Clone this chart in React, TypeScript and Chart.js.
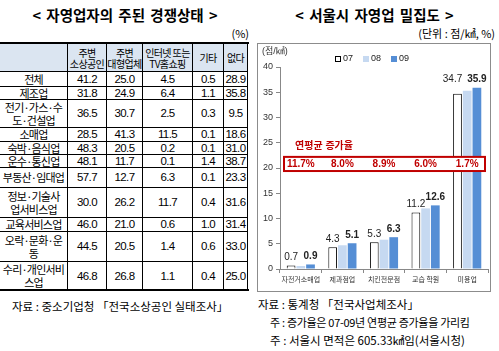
import React, { useEffect, useRef } from "react";
import { Chart, registerables } from "chart.js";
Chart.register(...registerables);

// ---- Table data (left) ----
const tableHeaders = ["주변<br>소상공인", "주변<br>대형업체", "인터넷 또는<br>TV홈쇼핑", "기타", "없다"];
const industries = [
  "전체",
  "제조업",
  "전기·가스·수<br>도·건설업",
  "소매업",
  "숙박·음식업",
  "운수·통신업",
  "부동산·임대업",
  "정보·기술사<br>업서비스업",
  "교육서비스업",
  "오락·문화·운<br>동",
  "수리·개인서비<br>스업",
];
const localSmall = ["41.2", "31.8", "36.5", "28.5", "48.3", "48.1", "57.7", "30.0", "46.0", "44.5", "46.8"];
const localLarge = ["25.0", "24.9", "30.7", "41.3", "20.5", "11.7", "12.7", "26.2", "21.0", "20.5", "26.8"];
const onlineTv = ["4.5", "6.4", "2.5", "11.5", "0.2", "0.1", "6.3", "11.7", "0.6", "1.4", "1.1"];
const others = ["0.5", "1.1", "0.3", "0.1", "0.1", "1.4", "0.1", "0.4", "1.0", "0.6", "0.4"];
const none = ["28.9", "35.8", "9.5", "18.6", "31.0", "38.7", "23.3", "31.6", "31.4", "33.0", "25.0"];

// ---- Chart data (right) ----
const categories = ["자전거소매업", "제과점업", "치킨전문점", "교습 학원", "미용업"];
const seriesNames = ["07", "08", "09"];
const values07 = [0.7, 4.3, 5.3, 11.2, 34.7];
const values08 = [0.6, 4.7, 5.8, 12.0, 35.3];
const values09 = [0.9, 5.1, 6.3, 12.6, 35.9];
const growthRates = ["11.7%", "8.0%", "8.9%", "6.0%", "1.7%"];
const growthTitle = "연평균 증가율";

// layout helpers for table
const colEdges = [0, 68, 107, 143, 193, 224, 248];
const rowHeights = [28, 15, 13, 28, 14, 13, 13, 20, 30, 14, 30, 28];
const tableTop = 44;

const KFONT = "'Noto Sans CJK KR', 'Noto Sans', sans-serif";
const NFONT = "'Liberation Sans', 'Noto Sans CJK KR', sans-serif";

function Table() {
  const cells: React.ReactNode[] = [];
  let y = tableTop;
  const columns = [localSmall, localLarge, onlineTv, others, none];
  for (let r = 0; r < rowHeights.length; r++) {
    const h = rowHeights[r];
    for (let c = 0; c < 6; c++) {
      const left = colEdges[c];
      const w = colEdges[c + 1] - colEdges[c];
      let html = "";
      let isNum = false;
      if (r === 0) {
        html = c === 0 ? "" : tableHeaders[c - 1];
      } else if (c === 0) {
        html = industries[r - 1];
      } else {
        html = columns[c - 1][r - 1];
        isNum = true;
      }
      cells.push(
        <div
          key={r + "-" + c}
          style={{
            position: "absolute",
            left,
            top: y,
            width: w,
            height: h,
            boxSizing: "border-box",
            borderRight: "1px solid #000",
            borderBottom: r === rowHeights.length - 1 ? "none" : "1px solid #000",
            background: r === 0 ? "#dbe5f1" : "#fff",
            display: "flex",
            alignItems: "center",
            justifyContent: "center",
            textAlign: "center",
            fontFamily: isNum ? NFONT : KFONT,
            fontSize: r === 0 ? 10 : isNum ? 11.5 : 11,
            letterSpacing: isNum ? -0.6 : r === 0 ? -0.6 : -0.8,
            lineHeight: r === 0 ? "11px" : "13px",
            whiteSpace: "nowrap",
            color: "#000",
          }}
          dangerouslySetInnerHTML={{ __html: html }}
        />
      );
    }
    y += h;
  }
  return (
    <>
      <div style={{ position: "absolute", left: 0, top: tableTop - 2, width: 249, height: 2, background: "#000" }} />
      {cells}
      <div style={{ position: "absolute", left: 0, top: y - 1, width: 249, height: 2, background: "#000" }} />
    </>
  );
}

export default function App() {
  const canvasRef = useRef<HTMLCanvasElement>(null);

  useEffect(() => {
    const canvas = canvasRef.current;
    if (!canvas) return;

    const annot = {
      id: "annot",
      afterDatasetsDraw(chart: any) {
        const ctx = chart.ctx;
        const xs = chart.scales.x;
        const ys = chart.scales.y;
        const area = chart.chartArea;
        ctx.save();

        // unit label
        ctx.fillStyle = "#333";
        ctx.font = `9px ${NFONT}`;
        ctx.textAlign = "left";
        ctx.textBaseline = "middle";
        ctx.fillText("(점/㎢)", 4, 8);

        // legend
        const legendX = [77, 105, 133];
        chart.data.datasets.forEach((ds: any, i: number) => {
          const lx = legendX[i];
          const ly = 15;
          ctx.fillStyle = ds.backgroundColor;
          ctx.fillRect(lx, ly - 3, 6, 6);
          if (i === 0) {
            ctx.strokeStyle = "#000";
            ctx.lineWidth = 1;
            ctx.strokeRect(lx + 0.5, ly - 2.5, 5, 5);
          }
          ctx.fillStyle = "#222";
          ctx.font = `9px ${NFONT}`;
          ctx.textAlign = "left";
          ctx.textBaseline = "middle";
          ctx.fillText(ds.label, lx + 8, ly);
        });

        // value labels for 07 and 09
        [0, 2].forEach((di) => {
          const meta = chart.getDatasetMeta(di);
          const vals = chart.data.datasets[di].data;
          meta.data.forEach((bar: any, i: number) => {
            ctx.fillStyle = "#222";
            ctx.font = `${di === 2 ? "bold " : ""}10px ${NFONT}`;
            ctx.textAlign = "center";
            ctx.textBaseline = "bottom";
            let xx = bar.x;
            let yy = bar.y - 3;
            if (di === 0 && i === 4) {
              yy = ys.getPixelForValue(35.9) - 3;
              xx = bar.x - 5;
            }
            ctx.fillText(Number(vals[i]).toFixed(1), xx, yy);
          });
        });

        // growth box
        const top = ys.getPixelForValue(22.2);
        const bottom = ys.getPixelForValue(19.4);
        const left = area.left + 4;
        const right = area.right - 3;
        ctx.fillStyle = "#ffffff";
        ctx.fillRect(left, top, right - left, bottom - top);
        ctx.strokeStyle = "#c00000";
        ctx.lineWidth = 2;
        ctx.strokeRect(left, top, right - left, bottom - top);

        ctx.fillStyle = "#c00000";
        ctx.font = `bold 10px ${NFONT}`;
        ctx.textAlign = "left";
        ctx.textBaseline = "middle";
        ctx.fillText(growthTitle, area.left + 15, ys.getPixelForValue(24.4));

        ctx.textAlign = "center";
        growthRates.forEach((g, i) => {
          ctx.fillText(g, xs.getPixelForValue(i), (top + bottom) / 2 + 0.5);
        });

        ctx.restore();
      },
    };

    const chart = new Chart(canvas, {
      type: "bar",
      data: {
        labels: categories,
        datasets: [
          { label: seriesNames[0], data: values07, backgroundColor: "#ffffff", borderColor: "#000000", borderWidth: 1 },
          { label: seriesNames[1], data: values08, backgroundColor: "#c6d9f1", borderWidth: 0 },
          { label: seriesNames[2], data: values09, backgroundColor: "#558ed5", borderWidth: 0 },
        ],
      },
      options: {
        responsive: false,
        animation: false,
        devicePixelRatio: 1,
        layout: { padding: { top: 23, right: 2, left: 0, bottom: 0 } },
        datasets: { bar: { categoryPercentage: 0.7, barPercentage: 0.9 } },
        plugins: { legend: { display: false }, tooltip: { enabled: false }, title: { display: false } },
        scales: {
          x: {
            grid: { display: true, drawOnChartArea: false, drawTicks: true, tickLength: 4, offset: true, color: "#888" },
            border: { color: "#888" },
            ticks: { font: { size: 7, family: KFONT }, color: "#333", padding: 2, maxRotation: 0, autoSkip: false },
            afterFit: (s: any) => {
              s.height = 22;
            },
          },
          y: {
            min: 0,
            max: 40,
            ticks: { stepSize: 5, font: { size: 9, family: NFONT }, color: "#333", padding: 3 },
            grid: { drawOnChartArea: false, tickLength: 4, color: "#888" },
            border: { color: "#888" },
            afterFit: (s: any) => {
              s.width = 22;
            },
          },
        },
      },
      plugins: [annot],
    } as any);

    return () => chart.destroy();
  }, []);

  return (
    <div
      style={{
        position: "absolute",
        left: 0,
        top: 0,
        width: 499,
        height: 351,
        background: "#fff",
        overflow: "hidden",
        fontFamily: KFONT,
        color: "#000",
      }}
    >
      {/* Left title */}
      <div style={{ position: "absolute", left: 0, top: 6, width: 250, textAlign: "center", fontSize: 14.5, fontWeight: 700, lineHeight: "18px", wordSpacing: 2 }}>
        &lt; 자영업자의 주된 경쟁상태 &gt;
      </div>
      <div style={{ position: "absolute", right: 499 - 249, top: 26, fontSize: 11, lineHeight: "14px" }}>(%)</div>
      <Table />
      <div style={{ position: "absolute", left: 12, top: 298, fontSize: 11.5, lineHeight: "16px", whiteSpace: "nowrap" }}>
        자료 : 중소기업청 「전국소상공인 실태조사」
      </div>

      {/* Right title */}
      <div style={{ position: "absolute", left: 250, top: 6, width: 249, textAlign: "center", fontSize: 14.5, fontWeight: 700, lineHeight: "18px", wordSpacing: 2 }}>
        &lt; 서울시 자영업 밀집도 &gt;
      </div>
      <div style={{ position: "absolute", right: 4, top: 26, fontSize: 11, lineHeight: "14px", whiteSpace: "nowrap" }}>(단위 : 점/㎢, %)</div>

      <div
        style={{
          position: "absolute",
          left: 257,
          top: 43,
          width: 234,
          height: 249,
          boxSizing: "border-box",
          border: "1px solid #8c8c8c",
        }}
      >
        <canvas ref={canvasRef} width={232} height={247} style={{ display: "block", width: 232, height: 247 }} />
      </div>

      <div style={{ position: "absolute", left: 258, top: 296, fontSize: 11.5, lineHeight: "16px", whiteSpace: "nowrap" }}>
        자료 : 통계청 「전국사업체조사」
      </div>
      <div style={{ position: "absolute", left: 270, top: 314, fontSize: 11, letterSpacing: -0.3, lineHeight: "16px", whiteSpace: "nowrap" }}>
        주 : 증가율은 07-09년 연평균 증가율을 가리킴
      </div>
      <div style={{ position: "absolute", left: 270, top: 332, fontSize: 11.5, lineHeight: "16px", whiteSpace: "nowrap" }}>
        주 : 서울시 면적은 605.33㎢임(서울시청)
      </div>
    </div>
  );
}
